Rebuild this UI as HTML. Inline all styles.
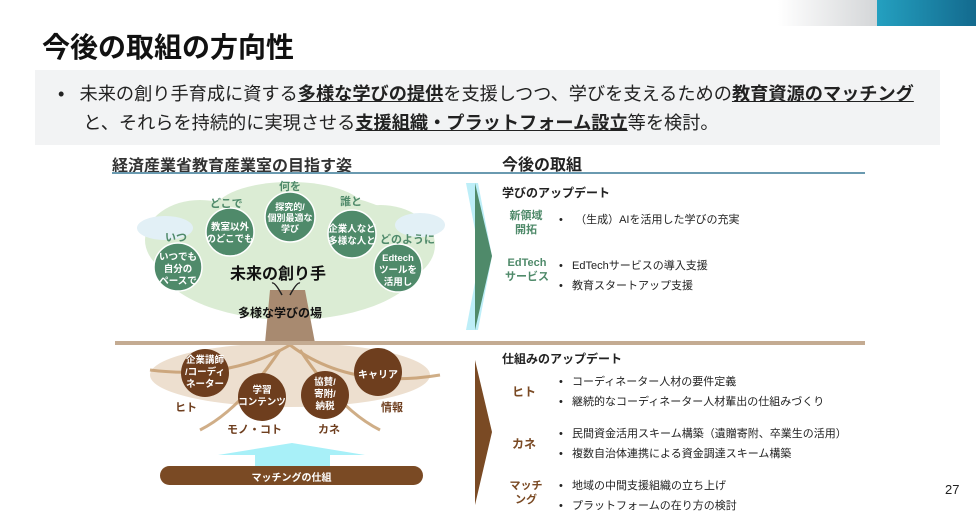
<!DOCTYPE html>
<html><head><meta charset="utf-8"><style>
body{margin:0;width:976px;height:512px;position:relative;background:#fff;overflow:hidden;font-family:"Liberation Sans","Noto Sans CJK JP",sans-serif;color:#222}
.a{position:absolute;white-space:nowrap}
b{font-weight:bold}
u{text-decoration:underline}
</style></head><body>
<div class="a" style="left:778px;top:0;width:99px;height:26px;background:linear-gradient(90deg,#fff,#d4d6d8)"></div>
<div class="a" style="left:877px;top:0;width:99px;height:26px;background:linear-gradient(90deg,#24a0c0,#136a8e)"></div>
<div class="a" style="left:42px;top:26px;font-size:28px;font-weight:bold;color:#111">今後の取組の方向性</div>
<div class="a" style="left:35px;top:70px;width:905px;height:75px;background:#f2f3f4"></div>
<div class="a" style="left:58px;top:80px;font-size:18.2px;line-height:29px;color:#222">•&nbsp;&nbsp;&nbsp;未来の創り手育成に資する<b><u>多様な学びの提供</u></b>を支援しつつ、学びを支えるための<b><u>教育資源のマッチング</u></b><br>&nbsp;&nbsp;&nbsp;&nbsp;&nbsp;と、それらを持続的に実現させる<b><u>支援組織・プラットフォーム設立</u></b>等を検討。</div>

<div class="a" style="left:112px;top:152px;font-size:16px;font-weight:bold;color:#333">経済産業省教育産業室の目指す姿</div>
<div class="a" style="left:502px;top:151px;font-size:16px;font-weight:bold;color:#222">今後の取組</div>
<div class="a" style="left:112px;top:172px;width:753px;height:2px;background:#6a9ab0"></div>

<svg class="a" style="left:0;top:0" width="976" height="512">
 <g fill="#cfe6c6" opacity="0.75">
  <ellipse cx="290" cy="255" rx="135" ry="65"/>
  <ellipse cx="200" cy="240" rx="55" ry="40"/>
  <ellipse cx="380" cy="245" rx="55" ry="40"/>
  <ellipse cx="290" cy="210" rx="75" ry="28"/>
 </g>
 <ellipse cx="165" cy="228" rx="28" ry="12" fill="#e2f0f6"/>
 <ellipse cx="420" cy="225" rx="25" ry="12" fill="#e2f0f6"/>
 <path d="M270 290 L265 343 L315 343 L305 290 Z" fill="#a88a70"/>
 <g fill="#dcc0a0" opacity="0.5">
  <ellipse cx="290" cy="375" rx="140" ry="32"/>
 </g>
 <g stroke="#c49a6a" stroke-width="3" fill="none" opacity="0.8">
  <path d="M290 345 Q230 380 150 370"/><path d="M290 345 Q350 390 440 375"/>
  <path d="M280 350 Q240 410 200 430"/><path d="M300 350 Q340 410 380 430"/>
 </g>
 <line x1="115" y1="343" x2="865" y2="343" stroke="#c4ab92" stroke-width="4"/>
 <g fill="#4f8a6a" stroke="#fff" stroke-width="1.5">
  <circle cx="290" cy="217" r="25"/><circle cx="230" cy="232" r="24"/><circle cx="352" cy="234" r="24"/>
  <circle cx="178" cy="267" r="24"/><circle cx="398" cy="268" r="24"/>
 </g>
 <g fill="#6e3e1e">
  <circle cx="205" cy="373" r="24"/><circle cx="262" cy="397" r="24"/><circle cx="325" cy="395" r="24"/><circle cx="378" cy="372" r="24"/>
 </g>
 <path d="M218 455 L292 443 L365 455 L330 455 L330 466 L255 466 L255 455 Z" fill="#a8f0f8"/>
 <rect x="160" y="466" width="263" height="19" rx="9.5" fill="#7a4a24"/>
 <path d="M466 183 L478 183 L492 256 L478 330 L466 330 L480 256 Z" fill="#bdeef8"/>
 <path d="M475 183 L492 256 L475 330 Z" fill="#4f8a6a"/>
 <path d="M475 360 L492 432 L475 505 Z" fill="#7a4a24"/>
 <path d="M282 295 Q275 282 272 283 M290 295 Q297 282 300 283" stroke="#222" stroke-width="1.5" fill="none"/>
</svg>

<div class="a" style="left:279px;top:178px;font-size:11px;color:#4f8a6a;font-weight:bold">何を</div>
<div class="a" style="left:210px;top:195px;font-size:11px;color:#4f8a6a;font-weight:bold">どこで</div>
<div class="a" style="left:340px;top:193px;font-size:11px;color:#4f8a6a;font-weight:bold">誰と</div>
<div class="a" style="left:165px;top:229px;font-size:11px;color:#4f8a6a;font-weight:bold">いつ</div>
<div class="a" style="left:380px;top:231px;font-size:11px;color:#4f8a6a;font-weight:bold">どのように</div>
<div class="a" style="left:265px;top:202px;width:50px;text-align:center;font-size:9px;line-height:11px;color:#fff;font-weight:bold">探究的/<br>個別最適な<br>学び</div>
<div class="a" style="left:205px;top:222px;width:50px;text-align:center;font-size:9.5px;line-height:12px;color:#fff;font-weight:bold">教室以外<br>のどこでも</div>
<div class="a" style="left:327px;top:224px;width:50px;text-align:center;font-size:9.5px;line-height:12px;color:#fff;font-weight:bold">企業人など<br>多様な人と</div>
<div class="a" style="left:153px;top:252px;width:50px;text-align:center;font-size:9.5px;line-height:12px;color:#fff;font-weight:bold">いつでも<br>自分の<br>ペースで</div>
<div class="a" style="left:373px;top:253px;width:50px;text-align:center;font-size:9.5px;line-height:12px;color:#fff;font-weight:bold">Edtech<br>ツールを<br>活用し</div>
<div class="a" style="left:230px;top:260px;font-size:16px;font-weight:bold;color:#111">未来の創り手</div>
<div class="a" style="left:238px;top:304px;font-size:12px;font-weight:bold;color:#111">多様な学びの場</div>
<div class="a" style="left:180px;top:355px;width:50px;text-align:center;font-size:9.5px;line-height:12px;color:#fff;font-weight:bold">企業講師<br>/コーディ<br>ネーター</div>
<div class="a" style="left:237px;top:385px;width:50px;text-align:center;font-size:9.5px;line-height:12px;color:#fff;font-weight:bold">学習<br>コンテンツ</div>
<div class="a" style="left:300px;top:377px;width:50px;text-align:center;font-size:9.5px;line-height:12px;color:#fff;font-weight:bold">協賛/<br>寄附/<br>納税</div>
<div class="a" style="left:353px;top:366px;width:50px;text-align:center;font-size:10px;color:#fff;font-weight:bold">キャリア</div>
<div class="a" style="left:175px;top:399px;font-size:11px;color:#6e3e1e;font-weight:bold">ヒト</div>
<div class="a" style="left:227px;top:421px;font-size:11px;color:#6e3e1e;font-weight:bold">モノ・コト</div>
<div class="a" style="left:318px;top:421px;font-size:11px;color:#6e3e1e;font-weight:bold">カネ</div>
<div class="a" style="left:381px;top:399px;font-size:11px;color:#6e3e1e;font-weight:bold">情報</div>
<div class="a" style="left:160px;top:469px;width:263px;text-align:center;font-size:10px;color:#fff;font-weight:bold">マッチングの仕組</div>

<div class="a" style="left:502px;top:184px;font-size:12px;font-weight:bold">学びのアップデート</div>
<div class="a" style="left:505px;top:209px;width:42px;text-align:center;font-size:11px;line-height:14px;color:#4f8a6a;font-weight:bold">新領域<br>開拓</div>
<div class="a" style="left:502px;top:256px;width:50px;text-align:center;font-size:11px;line-height:14px;color:#4f8a6a;font-weight:bold">EdTech<br>サービス</div>
<div class="a" style="left:502px;top:350px;font-size:12px;font-weight:bold">仕組みのアップデート</div>
<div class="a" style="left:512px;top:383px;font-size:12px;color:#7a4a24;font-weight:bold">ヒト</div>
<div class="a" style="left:512px;top:435px;font-size:12px;color:#7a4a24;font-weight:bold">カネ</div>
<div class="a" style="left:505px;top:479px;width:42px;text-align:center;font-size:11px;line-height:14px;color:#7a4a24;font-weight:bold">マッチ<br>ング</div>
<div class="a" style="left:559px;top:210px;font-size:11px;line-height:20px">•&nbsp;&nbsp;&nbsp;&nbsp;（生成）AIを活用した学びの充実</div>
<div class="a" style="left:559px;top:256px;font-size:11px;line-height:20px">•&nbsp;&nbsp;&nbsp;EdTechサービスの導入支援<br>•&nbsp;&nbsp;&nbsp;教育スタートアップ支援</div>
<div class="a" style="left:559px;top:372px;font-size:11px;line-height:20px">•&nbsp;&nbsp;&nbsp;コーディネーター人材の要件定義<br>•&nbsp;&nbsp;&nbsp;継続的なコーディネーター人材輩出の仕組みづくり</div>
<div class="a" style="left:559px;top:424px;font-size:11px;line-height:20px">•&nbsp;&nbsp;&nbsp;民間資金活用スキーム構築（遺贈寄附、卒業生の活用）<br>•&nbsp;&nbsp;&nbsp;複数自治体連携による資金調達スキーム構築</div>
<div class="a" style="left:559px;top:476px;font-size:11px;line-height:20px">•&nbsp;&nbsp;&nbsp;地域の中間支援組織の立ち上げ<br>•&nbsp;&nbsp;&nbsp;プラットフォームの在り方の検討</div>
<div class="a" style="left:945px;top:482px;font-size:13px">27</div>
</body></html>
